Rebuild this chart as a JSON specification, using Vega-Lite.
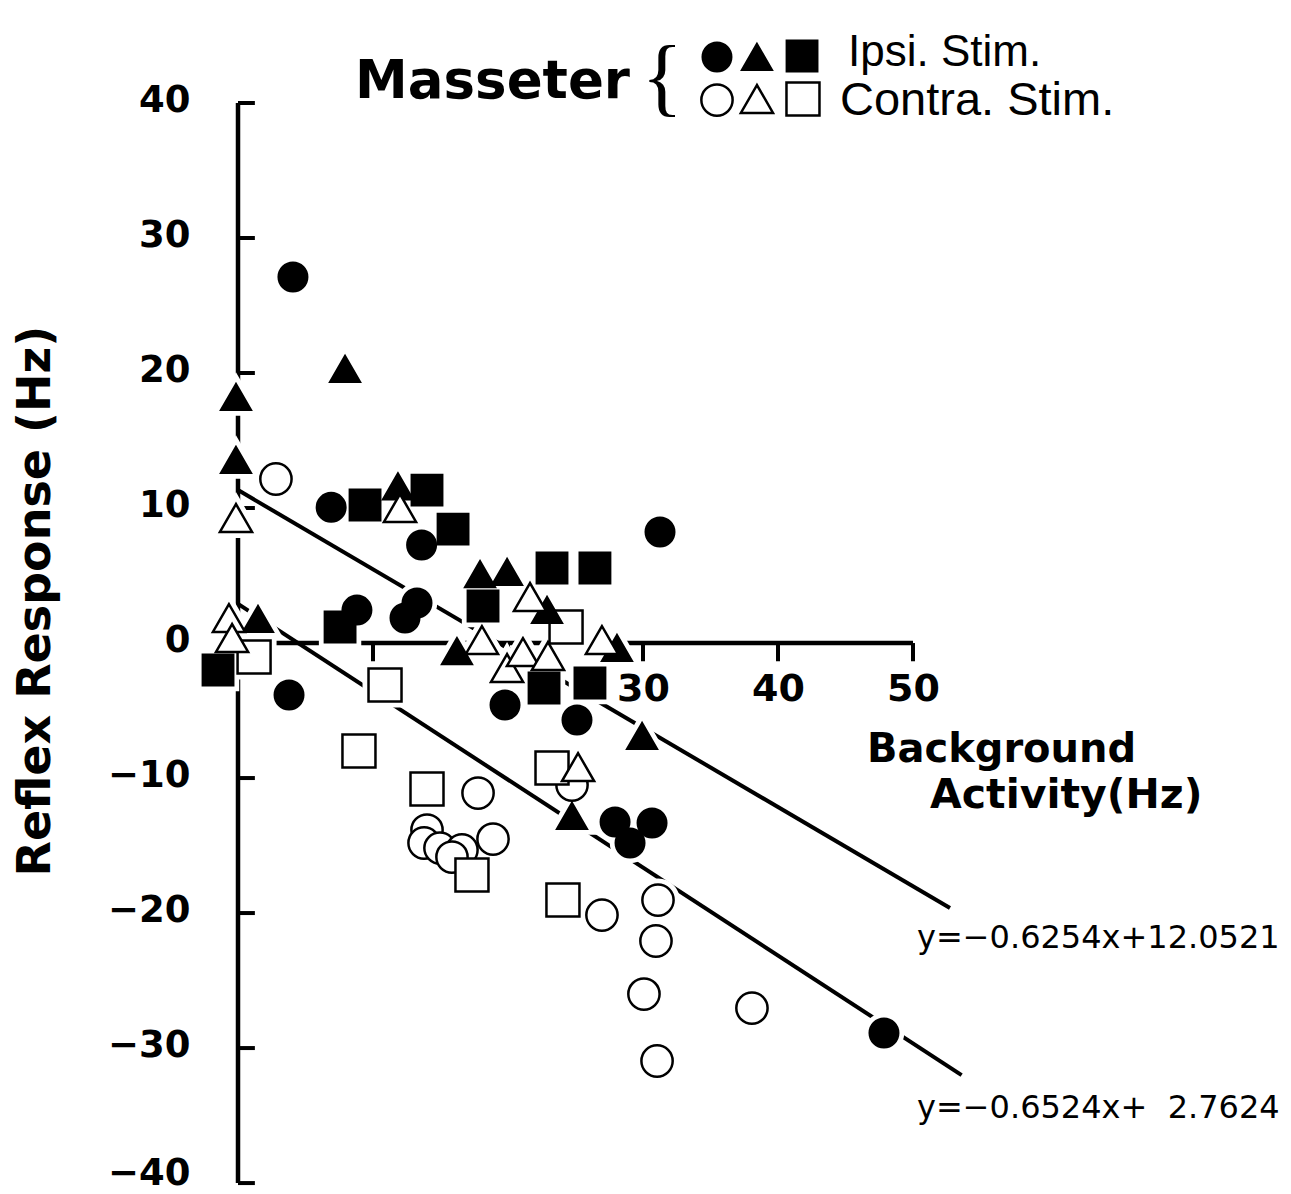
{
  "$schema": "https://vega.github.io/schema/vega-lite/v6.json",
  "width": 1291,
  "height": 1194,
  "autosize": {"type": "none"},
  "padding": 0,
  "background": "white",
  "config": {"view": {"stroke": null}, "axis": {"grid": false}},
  "resolve": {"axis": {"x": "independent", "y": "independent"}},
  "datasets": {
    "points": [
      {"bg": 2.81, "resp": 12.15, "series": "Contra 1"},
      {"bg": 17.78, "resp": -11.11, "series": "Contra 1"},
      {"bg": 18.89, "resp": -14.52, "series": "Contra 1"},
      {"bg": 14.0, "resp": -13.85, "series": "Contra 1"},
      {"bg": 13.78, "resp": -14.81, "series": "Contra 1"},
      {"bg": 14.96, "resp": -15.19, "series": "Contra 1"},
      {"bg": 16.59, "resp": -15.33, "series": "Contra 1"},
      {"bg": 15.85, "resp": -15.85, "series": "Contra 1"},
      {"bg": 24.74, "resp": -10.52, "series": "Contra 1"},
      {"bg": 26.96, "resp": -20.15, "series": "Contra 1"},
      {"bg": 31.11, "resp": -19.04, "series": "Contra 1"},
      {"bg": 30.96, "resp": -22.07, "series": "Contra 1"},
      {"bg": 30.07, "resp": -26.0, "series": "Contra 1"},
      {"bg": 38.07, "resp": -27.04, "series": "Contra 1"},
      {"bg": 31.04, "resp": -30.96, "series": "Contra 1"},
      {"bg": 1.19, "resp": -1.04, "series": "Contra 3"},
      {"bg": 10.89, "resp": -3.11, "series": "Contra 3"},
      {"bg": 8.96, "resp": -8.0, "series": "Contra 3"},
      {"bg": 14.0, "resp": -10.81, "series": "Contra 3"},
      {"bg": 17.33, "resp": -17.19, "series": "Contra 3"},
      {"bg": 23.26, "resp": -9.26, "series": "Contra 3"},
      {"bg": 24.07, "resp": -19.04, "series": "Contra 3"},
      {"bg": 24.3, "resp": 1.19, "series": "Contra 3"},
      {"bg": 4.07, "resp": 27.11, "series": "Ipsi 1"},
      {"bg": 6.9, "resp": 10.05, "series": "Ipsi 1"},
      {"bg": 8.81, "resp": 2.44, "series": "Ipsi 1"},
      {"bg": 13.6, "resp": 7.26, "series": "Ipsi 1"},
      {"bg": 13.26, "resp": 2.96, "series": "Ipsi 1"},
      {"bg": 12.37, "resp": 1.85, "series": "Ipsi 1"},
      {"bg": 3.78, "resp": -3.85, "series": "Ipsi 1"},
      {"bg": 19.78, "resp": -4.59, "series": "Ipsi 1"},
      {"bg": 25.11, "resp": -5.7, "series": "Ipsi 1"},
      {"bg": 31.26, "resp": 8.22, "series": "Ipsi 1"},
      {"bg": 27.93, "resp": -13.26, "series": "Ipsi 1"},
      {"bg": 29.04, "resp": -14.81, "series": "Ipsi 1"},
      {"bg": 30.67, "resp": -13.33, "series": "Ipsi 1"},
      {"bg": 47.85, "resp": -28.89, "series": "Ipsi 1"},
      {"bg": -0.15, "resp": 18.22, "series": "Ipsi 2"},
      {"bg": -0.15, "resp": 13.56, "series": "Ipsi 2"},
      {"bg": 1.48, "resp": 1.78, "series": "Ipsi 2"},
      {"bg": 7.93, "resp": 20.3, "series": "Ipsi 2"},
      {"bg": 11.85, "resp": 11.6, "series": "Ipsi 2"},
      {"bg": 17.93, "resp": 5.1, "series": "Ipsi 2"},
      {"bg": 19.93, "resp": 5.26, "series": "Ipsi 2"},
      {"bg": 16.22, "resp": -0.6, "series": "Ipsi 2"},
      {"bg": 22.89, "resp": 2.44, "series": "Ipsi 2"},
      {"bg": 28.07, "resp": -0.37, "series": "Ipsi 2"},
      {"bg": 29.93, "resp": -6.89, "series": "Ipsi 2"},
      {"bg": 24.74, "resp": -12.81, "series": "Ipsi 2"},
      {"bg": -1.48, "resp": -2.0, "series": "Ipsi 3"},
      {"bg": 7.56, "resp": 1.19, "series": "Ipsi 3"},
      {"bg": 9.41, "resp": 10.22, "series": "Ipsi 3"},
      {"bg": 14.0, "resp": 11.33, "series": "Ipsi 3"},
      {"bg": 15.93, "resp": 8.44, "series": "Ipsi 3"},
      {"bg": 18.15, "resp": 2.74, "series": "Ipsi 3"},
      {"bg": 23.26, "resp": 5.56, "series": "Ipsi 3"},
      {"bg": 26.44, "resp": 5.56, "series": "Ipsi 3"},
      {"bg": 22.67, "resp": -3.33, "series": "Ipsi 3"},
      {"bg": 26.07, "resp": -2.96, "series": "Ipsi 3"},
      {"bg": -0.15, "resp": 9.26, "series": "Contra 2"},
      {"bg": -0.67, "resp": 1.85, "series": "Contra 2"},
      {"bg": -0.44, "resp": 0.37, "series": "Contra 2"},
      {"bg": 12.0, "resp": 10.0, "series": "Contra 2"},
      {"bg": 18.07, "resp": 0.22, "series": "Contra 2"},
      {"bg": 21.63, "resp": 3.41, "series": "Contra 2"},
      {"bg": 19.93, "resp": -1.85, "series": "Contra 2"},
      {"bg": 21.11, "resp": -0.67, "series": "Contra 2"},
      {"bg": 22.96, "resp": -0.96, "series": "Contra 2"},
      {"bg": 26.96, "resp": 0.22, "series": "Contra 2"},
      {"bg": 25.19, "resp": -9.19, "series": "Contra 2"}
    ],
    "fits": [
      {"fit": "upper", "bg": 0, "resp": 11.33},
      {"fit": "upper", "bg": 52.74, "resp": -19.63},
      {"fit": "lower", "bg": 0, "resp": 2.9},
      {"fit": "lower", "bg": 53.6, "resp": -32.0}
    ],
    "axislines": [
      {"x1": 0, "x2": 0, "y1": -40, "y2": 40},
      {"x1": 0, "x2": 50, "y1": 0, "y2": 0}
    ],
    "yticks": [{"v": -40}, {"v": -30}, {"v": -20}, {"v": -10}, {"v": 0}, {"v": 10}, {"v": 20}, {"v": 30}, {"v": 40}],
    "xticks": [{"v": 10}, {"v": 20}, {"v": 30}, {"v": 40}, {"v": 50}],
    "legend": [
      {"series": "Ipsi 1", "lx": 35.48, "ly": 43.41},
      {"series": "Ipsi 2", "lx": 38.44, "ly": 43.41},
      {"series": "Ipsi 3", "lx": 41.78, "ly": 43.48},
      {"series": "Contra 1", "lx": 35.48, "ly": 40.22},
      {"series": "Contra 2", "lx": 38.44, "ly": 40.3},
      {"series": "Contra 3", "lx": 41.85, "ly": 40.3}
    ]
  },
  "layer": [
    {
      "data": {"name": "axislines"},
      "mark": {"type": "rule", "color": "black", "strokeWidth": 4.5},
      "encoding": {
        "x": {"field": "x1", "type": "quantitative", "scale": {"domain": [-17.63, 78.0], "nice": false, "zero": false}, "axis": null},
        "x2": {"field": "x2"},
        "y": {"field": "y1", "type": "quantitative", "scale": {"domain": [-40.81, 47.63], "nice": false, "zero": false}, "axis": null},
        "y2": {"field": "y2"}
      }
    },
    {
      "data": {"name": "yticks"},
      "mark": {"type": "rule", "color": "black", "strokeWidth": 4},
      "encoding": {
        "y": {"field": "v", "type": "quantitative", "scale": {"domain": [-40.81, 47.63], "nice": false, "zero": false}, "axis": null},
        "x": {"datum": 0, "type": "quantitative", "scale": {"domain": [-17.63, 78.0], "nice": false, "zero": false}, "axis": null},
        "x2": {"datum": 1.25}
      }
    },
    {
      "data": {"name": "xticks"},
      "mark": {"type": "rule", "color": "black", "strokeWidth": 4},
      "encoding": {
        "x": {"field": "v", "type": "quantitative", "scale": {"domain": [-17.63, 78.0], "nice": false, "zero": false}, "axis": null},
        "y": {"datum": 0, "type": "quantitative", "scale": {"domain": [-40.81, 47.63], "nice": false, "zero": false}, "axis": null},
        "y2": {"datum": -1.35}
      }
    },
    {
      "data": {"name": "fits"},
      "mark": {"type": "line", "color": "black", "strokeWidth": 4},
      "encoding": {
        "x": {"field": "bg", "type": "quantitative", "scale": {"domain": [-17.63, 78.0], "nice": false, "zero": false}, "axis": null},
        "y": {"field": "resp", "type": "quantitative", "scale": {"domain": [-40.81, 47.63], "nice": false, "zero": false}, "axis": null},
        "detail": {"field": "fit", "type": "nominal"}
      }
    },
    {
      "data": {"name": "points"},
      "mark": {"type": "point", "filled": true, "fill": "white", "stroke": "white", "strokeWidth": 12, "opacity": 1},
      "encoding": {
        "x": {"field": "bg", "type": "quantitative", "scale": {"domain": [-17.63, 78.0], "nice": false, "zero": false}, "axis": null},
        "y": {"field": "resp", "type": "quantitative", "scale": {"domain": [-40.81, 47.63], "nice": false, "zero": false}, "axis": null},
        "shape": {"field": "series", "type": "nominal", "scale": {"domain": ["Ipsi 1", "Ipsi 2", "Ipsi 3", "Contra 1", "Contra 2", "Contra 3"], "range": ["circle", "triangle-up", "square", "circle", "triangle-up", "square"]}, "legend": null},
        "size": {"field": "series", "type": "nominal", "scale": {"domain": ["Ipsi 1", "Ipsi 2", "Ipsi 3", "Contra 1", "Contra 2", "Contra 3"], "range": [812, 1089, 1024, 729, 625, 961]}, "legend": null}
      }
    },
    {
      "data": {"name": "points"},
      "mark": {"type": "point", "filled": true, "stroke": "black", "strokeWidth": 2.5, "opacity": 1},
      "encoding": {
        "x": {
          "field": "bg", "type": "quantitative",
          "scale": {"domain": [-17.63, 78.0], "nice": false, "zero": false},
          "axis": {"orient": "bottom", "offset": -551, "values": [30, 40, 50], "domain": false, "ticks": false, "tickSize": 0, "grid": false, "labelPadding": 27, "labelFont": "DejaVu Sans", "labelFontWeight": "bold", "labelFontSize": 38, "labelColor": "black", "labelOverlap": false, "labelFlush": false, "title": null}
        },
        "y": {
          "field": "resp", "type": "quantitative",
          "scale": {"domain": [-40.81, 47.63], "nice": false, "zero": false},
          "axis": {"orient": "left", "offset": -238, "values": [-40, -30, -20, -10, 0, 10, 20, 30, 40], "domain": false, "ticks": false, "tickSize": 0, "grid": false, "labelPadding": 48, "labelOffset": {"condition": {"test": "datum.value <= -40", "value": -10}, "value": -3}, "labelFont": "DejaVu Sans", "labelFontWeight": "bold", "labelFontSize": 37, "labelColor": "black", "labelOverlap": false, "labelFlush": false, "title": null}
        },
        "shape": {"field": "series", "type": "nominal", "scale": {"domain": ["Ipsi 1", "Ipsi 2", "Ipsi 3", "Contra 1", "Contra 2", "Contra 3"], "range": ["circle", "triangle-up", "square", "circle", "triangle-up", "square"]}, "legend": null},
        "size": {"field": "series", "type": "nominal", "scale": {"domain": ["Ipsi 1", "Ipsi 2", "Ipsi 3", "Contra 1", "Contra 2", "Contra 3"], "range": [812, 1089, 1024, 729, 625, 961]}, "legend": null},
        "fill": {"field": "series", "type": "nominal", "scale": {"domain": ["Ipsi 1", "Ipsi 2", "Ipsi 3", "Contra 1", "Contra 2", "Contra 3"], "range": ["black", "black", "black", "white", "white", "white"]}, "legend": null}
      }
    },
    {
      "data": {"name": "legend"},
      "mark": {"type": "point", "filled": true, "stroke": "black", "strokeWidth": 2.5, "opacity": 1},
      "encoding": {
        "x": {"field": "lx", "type": "quantitative", "scale": {"domain": [-17.63, 78.0], "nice": false, "zero": false}, "axis": null},
        "y": {"field": "ly", "type": "quantitative", "scale": {"domain": [-40.81, 47.63], "nice": false, "zero": false}, "axis": null},
        "shape": {"field": "series", "type": "nominal", "scale": {"domain": ["Ipsi 1", "Ipsi 2", "Ipsi 3", "Contra 1", "Contra 2", "Contra 3"], "range": ["circle", "triangle-up", "square", "circle", "triangle-up", "square"]}, "legend": null},
        "size": {"field": "series", "type": "nominal", "scale": {"domain": ["Ipsi 1", "Ipsi 2", "Ipsi 3", "Contra 1", "Contra 2", "Contra 3"], "range": [812, 1089, 1024, 729, 625, 961]}, "legend": null},
        "fill": {"field": "series", "type": "nominal", "scale": {"domain": ["Ipsi 1", "Ipsi 2", "Ipsi 3", "Contra 1", "Contra 2", "Contra 3"], "range": ["black", "black", "black", "white", "white", "white"]}, "legend": null}
      }
    },
    {
      "data": {"values": [{}]},
      "mark": {"type": "text", "text": "Masseter", "font": "DejaVu Sans", "fontWeight": "bold", "fontSize": 53, "align": "left", "baseline": "alphabetic", "color": "black"},
      "encoding": {
        "x": {"datum": 8.67, "type": "quantitative", "scale": {"domain": [-17.63, 78.0], "nice": false, "zero": false}, "axis": null},
        "y": {"datum": 40.37, "type": "quantitative", "scale": {"domain": [-40.81, 47.63], "nice": false, "zero": false}, "axis": null}
      }
    },
    {
      "data": {"values": [{}]},
      "mark": {"type": "text", "text": "{", "font": "Liberation Serif", "fontSize": 86, "align": "center", "baseline": "middle", "color": "black"},
      "encoding": {
        "x": {"datum": 31.41, "type": "quantitative", "scale": {"domain": [-17.63, 78.0], "nice": false, "zero": false}, "axis": null},
        "y": {"datum": 41.78, "type": "quantitative", "scale": {"domain": [-40.81, 47.63], "nice": false, "zero": false}, "axis": null}
      }
    },
    {
      "data": {"values": [{}]},
      "mark": {"type": "text", "text": "Ipsi. Stim.", "font": "Liberation Sans", "fontSize": 44, "align": "left", "baseline": "alphabetic", "color": "black"},
      "encoding": {
        "x": {"datum": 45.19, "type": "quantitative", "scale": {"domain": [-17.63, 78.0], "nice": false, "zero": false}, "axis": null},
        "y": {"datum": 42.74, "type": "quantitative", "scale": {"domain": [-40.81, 47.63], "nice": false, "zero": false}, "axis": null}
      }
    },
    {
      "data": {"values": [{}]},
      "mark": {"type": "text", "text": "Contra. Stim.", "font": "Liberation Sans", "fontSize": 47, "align": "left", "baseline": "alphabetic", "color": "black"},
      "encoding": {
        "x": {"datum": 44.59, "type": "quantitative", "scale": {"domain": [-17.63, 78.0], "nice": false, "zero": false}, "axis": null},
        "y": {"datum": 39.11, "type": "quantitative", "scale": {"domain": [-40.81, 47.63], "nice": false, "zero": false}, "axis": null}
      }
    },
    {
      "data": {"values": [{}]},
      "mark": {"type": "text", "text": "Background", "font": "DejaVu Sans", "fontWeight": "bold", "fontSize": 40, "align": "left", "baseline": "alphabetic", "color": "black"},
      "encoding": {
        "x": {"datum": 46.59, "type": "quantitative", "scale": {"domain": [-17.63, 78.0], "nice": false, "zero": false}, "axis": null},
        "y": {"datum": -8.81, "type": "quantitative", "scale": {"domain": [-40.81, 47.63], "nice": false, "zero": false}, "axis": null}
      }
    },
    {
      "data": {"values": [{}]},
      "mark": {"type": "text", "text": "Activity(Hz)", "font": "DejaVu Sans", "fontWeight": "bold", "fontSize": 41, "align": "left", "baseline": "alphabetic", "color": "black"},
      "encoding": {
        "x": {"datum": 51.26, "type": "quantitative", "scale": {"domain": [-17.63, 78.0], "nice": false, "zero": false}, "axis": null},
        "y": {"datum": -12.22, "type": "quantitative", "scale": {"domain": [-40.81, 47.63], "nice": false, "zero": false}, "axis": null}
      }
    },
    {
      "data": {"values": [{}]},
      "mark": {"type": "text", "text": "y=−0.6254x+12.0521", "font": "DejaVu Sans", "fontSize": 32, "align": "left", "baseline": "alphabetic", "color": "black"},
      "encoding": {
        "x": {"datum": 50.3, "type": "quantitative", "scale": {"domain": [-17.63, 78.0], "nice": false, "zero": false}, "axis": null},
        "y": {"datum": -22.59, "type": "quantitative", "scale": {"domain": [-40.81, 47.63], "nice": false, "zero": false}, "axis": null}
      }
    },
    {
      "data": {"values": [{}]},
      "mark": {"type": "text", "text": "y=−0.6524x+\u00a0\u00a02.7624", "font": "DejaVu Sans", "fontSize": 32, "align": "left", "baseline": "alphabetic", "color": "black"},
      "encoding": {
        "x": {"datum": 50.3, "type": "quantitative", "scale": {"domain": [-17.63, 78.0], "nice": false, "zero": false}, "axis": null},
        "y": {"datum": -35.19, "type": "quantitative", "scale": {"domain": [-40.81, 47.63], "nice": false, "zero": false}, "axis": null}
      }
    },
    {
      "data": {"values": [{}]},
      "mark": {"type": "text", "text": "Reflex Response (Hz)", "font": "DejaVu Sans", "fontWeight": "bold", "fontSize": 46, "angle": 270, "align": "center", "baseline": "middle", "color": "black"},
      "encoding": {
        "x": {"datum": -14.96, "type": "quantitative", "scale": {"domain": [-17.63, 78.0], "nice": false, "zero": false}, "axis": null},
        "y": {"datum": 3.11, "type": "quantitative", "scale": {"domain": [-40.81, 47.63], "nice": false, "zero": false}, "axis": null}
      }
    }
  ]
}
